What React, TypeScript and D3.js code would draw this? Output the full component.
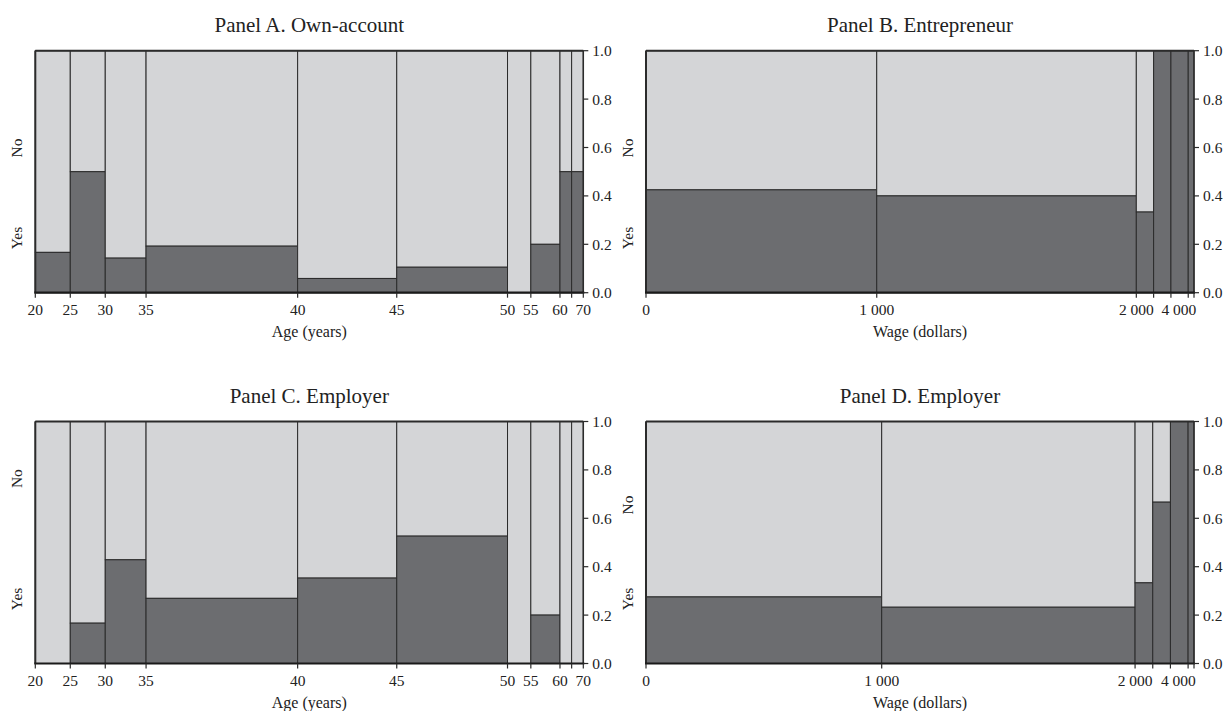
import React from 'react';
import * as d3 from 'd3';

// bins by age (both age panels share the same bin counts)
const ageBreaks = [20, 25, 30, 35, 40, 45, 50, 55, 60, 65, 70];
const ageLabelled = [20, 25, 30, 35, 40, 45, 50, 55, 60, 70];
const ageCounts = [6, 6, 7, 26, 17, 19, 4, 5, 2, 2];
const ownAccountYes = [1, 3, 1, 5, 1, 2, 0, 1, 1, 1];
const employerAgeYes = [0, 1, 3, 7, 6, 10, 0, 1, 0, 0];

// bins by wage
const wageBreaks = [0, 1000, 2000, 3000, 4000, 5000, 6000];
const wageLabelled = [0, 1000, 2000, 4000];
const entrepreneurCounts = [40, 45, 3, 3, 3, 1];
const entrepreneurYes = [17, 18, 1, 3, 3, 1];
const employerWageCounts = [40, 43, 3, 3, 3, 1];
const employerWageYes = [11, 10, 1, 2, 3, 1];

const yTicks = [0, 0.2, 0.4, 0.6, 0.8, 1.0];

const LIGHT = '#d4d5d7';
const DARK = '#6c6d70';
const LINE = '#2b2b2b';
const FONT = '"Liberation Serif", "Times New Roman", serif';

const fmtWage = d3.formatLocale({ decimal: '.', thousands: ' ', grouping: [3], currency: ['', ''] }).format(',');

type Panel = {
  title: string;
  xTitle: string;
  breaks: number[];
  labelled: number[];
  counts: number[];
  yes: number[];
  fmt: (v: number) => string;
  left: number;
  top: number;
  yesAt: number;
  noAt: number;
  labelShift?: { [k: number]: number };
};

const panels: Panel[] = [
  { title: 'Panel A. Own-account', xTitle: 'Age (years)', breaks: ageBreaks, labelled: ageLabelled,
    counts: ageCounts, yes: ownAccountYes, fmt: String, left: 35.3, top: 50.7, yesAt: 0.226, noAt: 0.598 },
  { title: 'Panel B. Entrepreneur', xTitle: 'Wage (dollars)', breaks: wageBreaks, labelled: wageLabelled,
    counts: entrepreneurCounts, yes: entrepreneurYes, fmt: fmtWage, left: 646, top: 50.7, yesAt: 0.226, noAt: 0.598,
    labelShift: { 4000: 8 } },
  { title: 'Panel C. Employer', xTitle: 'Age (years)', breaks: ageBreaks, labelled: ageLabelled,
    counts: ageCounts, yes: employerAgeYes, fmt: String, left: 35.3, top: 421.5, yesAt: 0.267, noAt: 0.764 },
  { title: 'Panel D. Employer', xTitle: 'Wage (dollars)', breaks: wageBreaks, labelled: wageLabelled,
    counts: employerWageCounts, yes: employerWageYes, fmt: fmtWage, left: 646, top: 421.5, yesAt: 0.267, noAt: 0.655,
    labelShift: { 4000: 8 } },
];

const W = 548;
const H = 242;

const Spine = ({ p }: { p: Panel }) => {
  const x0 = p.left, x1 = p.left + W, y0 = p.top, y1 = p.top + H;
  const total = d3.sum(p.counts);
  const cum = [0, ...d3.cumsum(p.counts)];
  const x = d3.scaleLinear().domain([0, total]).range([x0, x1]);
  const y = d3.scaleLinear().domain([0, 1]).range([y1, y0]);
  const cx = (x0 + x1) / 2;

  return (
    <g fontFamily={FONT} fill="#222">
      <text x={cx} y={y0 - 19} textAnchor="middle" fontSize={21}>{p.title}</text>
      {p.counts.map((n, i) => {
        const frac = p.yes[i] / n;
        const a = x(cum[i]), b = x(cum[i + 1]);
        return (
          <g key={i}>
            <rect x={a} y={y(1)} width={b - a} height={y(frac) - y(1)} fill={LIGHT} stroke={LINE} strokeWidth={1} />
            <rect x={a} y={y(frac)} width={b - a} height={y(0) - y(frac)} fill={DARK} stroke={LINE} strokeWidth={1} />
          </g>
        );
      })}
      {/* frame */}
      <line x1={x0} x2={x1} y1={y0} y2={y0} stroke={LINE} strokeWidth={2} />
      <line x1={x0} x2={x0} y1={y0} y2={y1} stroke={LINE} strokeWidth={2} />
      <line x1={x1} x2={x1} y1={y0} y2={y1} stroke={LINE} strokeWidth={1.5} />
      <line x1={x0 - 1} x2={x1 + 1} y1={y1} y2={y1} stroke="#1a1a1a" strokeWidth={2.2} />
      {/* x axis at bin breaks */}
      {p.breaks.map((v, i) => (
        <g key={i}>
          <line x1={x(cum[i])} x2={x(cum[i])} y1={y1} y2={y1 + 5} stroke={LINE} strokeWidth={1.2} />
          {p.labelled.includes(v) && (
            <text x={x(cum[i]) + (p.labelShift?.[v] ?? 0)} y={y1 + 22.5} textAnchor="middle" fontSize={15.5}>{p.fmt(v)}</text>
          )}
        </g>
      ))}
      <text x={cx} y={y1 + 44} textAnchor="middle" fontSize={16}>{p.xTitle}</text>
      {/* right proportion axis */}
      {yTicks.map(t => (
        <g key={t}>
          <line x1={x1} x2={x1 + 5} y1={y(t)} y2={y(t)} stroke={LINE} strokeWidth={1.2} />
          <text x={x1 + 9} y={y(t)} dy="0.35em" fontSize={15.5}>{d3.format('.1f')(t)}</text>
        </g>
      ))}
      {/* category labels */}
      <text transform={`translate(${x0 - 13},${y(p.yesAt)}) rotate(-90)`} textAnchor="middle" fontSize={15.5}>Yes</text>
      <text transform={`translate(${x0 - 13},${y(p.noAt)}) rotate(-90)`} textAnchor="middle" fontSize={15.5}>No</text>
    </g>
  );
};

export default function App() {
  return (
    <svg width={1224} height={711} style={{ position: 'absolute', left: 0, top: 0, background: '#fff' }}>
      {panels.map(p => <Spine key={p.title} p={p} />)}
    </svg>
  );
}
